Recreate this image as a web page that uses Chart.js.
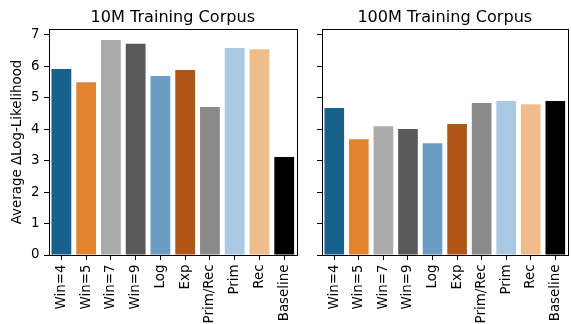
<!DOCTYPE html>
<html>
<head>
<meta charset="utf-8">
<script src="https://cdn.jsdelivr.net/npm/chart.js@4.4.1/dist/chart.umd.min.js"></script>
<style>
  html, body { margin: 0; padding: 0; background: #fff; overflow: hidden; }
  #wrap { position: relative; width: 571px; height: 324px; overflow: hidden; }
  canvas { position: absolute; top: 0; }
</style>
</head>
<body>
<div id="wrap">
  <canvas id="c10m" width="305" height="324" style="left:0px"></canvas>
  <canvas id="c100m" width="276" height="324" style="left:300px"></canvas>
</div>
<script>
// Method names shared by both panels
const methods = ['Win=4', 'Win=5', 'Win=7', 'Win=9', 'Log', 'Exp', 'Prim/Rec', 'Prim', 'Rec', 'Baseline'];

// Average delta log-likelihood per method
const scores10M  = [5.91, 5.49, 6.83, 6.71, 5.69, 5.88, 4.70, 6.58, 6.54, 3.11];
const scores100M = [4.67, 3.68, 4.09, 4.00, 3.55, 4.16, 4.83, 4.89, 4.79, 4.89];

// Panel titles and y-axis label
const panelTitles = ['10M Training Corpus', '100M Training Corpus'];
const yAxisLabel = 'Average \u0394Log-Likelihood';
const yTicks = [0, 1, 2, 3, 4, 5, 6, 7];

const barColors = ['#16628d', '#e2832f', '#aaaaaa', '#595959', '#6b9cc4',
                   '#b05718', '#8a8a8a', '#aac8e2', '#efbd8b', '#000000'];

const FONT = '"DejaVu Sans", "Liberation Sans", sans-serif';
const TICK_SIZE = 13.4;
const TITLE_SIZE = 16.1;
Chart.defaults.font.family = FONT;
Chart.defaults.color = '#000';

// Full box around the plot area plus a centred title above it
const frameAndTitle = {
  id: 'frameAndTitle',
  afterDraw(chart, args, opts) {
    const { ctx, chartArea: a } = chart;
    ctx.save();
    ctx.strokeStyle = '#000';
    ctx.lineWidth = 1;
    ctx.strokeRect(Math.round(a.left) + 0.5, Math.round(a.top) + 0.5,
                   Math.round(a.right - a.left), Math.round(a.bottom - a.top));
    ctx.fillStyle = '#000';
    ctx.font = TITLE_SIZE + 'px ' + FONT;
    ctx.textAlign = 'center';
    ctx.textBaseline = 'alphabetic';
    ctx.fillText(opts.text, (a.left + a.right) / 2, 21.7);
    ctx.restore();
  }
};

function makePanel(id, values, title, showYLabels, yWidth, padRight) {
  return new Chart(document.getElementById(id), {
    type: 'bar',
    data: {
      labels: methods,
      datasets: [{
        data: values,
        backgroundColor: barColors,
        borderWidth: 0,
        categoryPercentage: 1.0,
        barPercentage: 0.8
      }]
    },
    options: {
      responsive: false,
      animation: false,
      devicePixelRatio: 1,
      layout: { padding: { top: 29, right: padRight, left: 0, bottom: 0 } },
      plugins: {
        legend: { display: false },
        tooltip: { enabled: false },
        title: { display: false },
        frameAndTitle: { text: title }
      },
      scales: {
        x: {
          offset: true,
          grid: { display: true, offset: false, drawOnChartArea: false, drawTicks: true, tickLength: 5, color: '#000', tickColor: '#000' },
          border: { display: true, color: '#000', width: 1 },
          ticks: { minRotation: 90, maxRotation: 90, padding: 4.5, font: { size: TICK_SIZE }, color: '#000', autoSkip: false },
          afterFit(scale) { scale.height = 69; }
        },
        y: {
          min: 0,
          max: 7.18,
          afterBuildTicks(scale) { scale.ticks = yTicks.map(v => ({ value: v })); },
          grid: { display: true, drawOnChartArea: false, drawTicks: true, tickLength: 5, color: '#000', tickColor: '#000' },
          border: { display: true, color: '#000', width: 1 },
          ticks: { display: showYLabels, padding: 4.5, font: { size: TICK_SIZE }, color: '#000' },
          title: {
            display: showYLabels,
            text: yAxisLabel,
            font: { size: TICK_SIZE },
            color: '#000',
            padding: { top: 9.5, bottom: 0 }
          },
          afterFit(scale) { scale.width = yWidth; }
        }
      }
    },
    plugins: [frameAndTitle]
  });
}

makePanel('c10m', scores10M, panelTitles[0], true, 49, 4);
makePanel('c100m', scores100M, panelTitles[1], false, 22, 2);
</script>
</body>
</html>
